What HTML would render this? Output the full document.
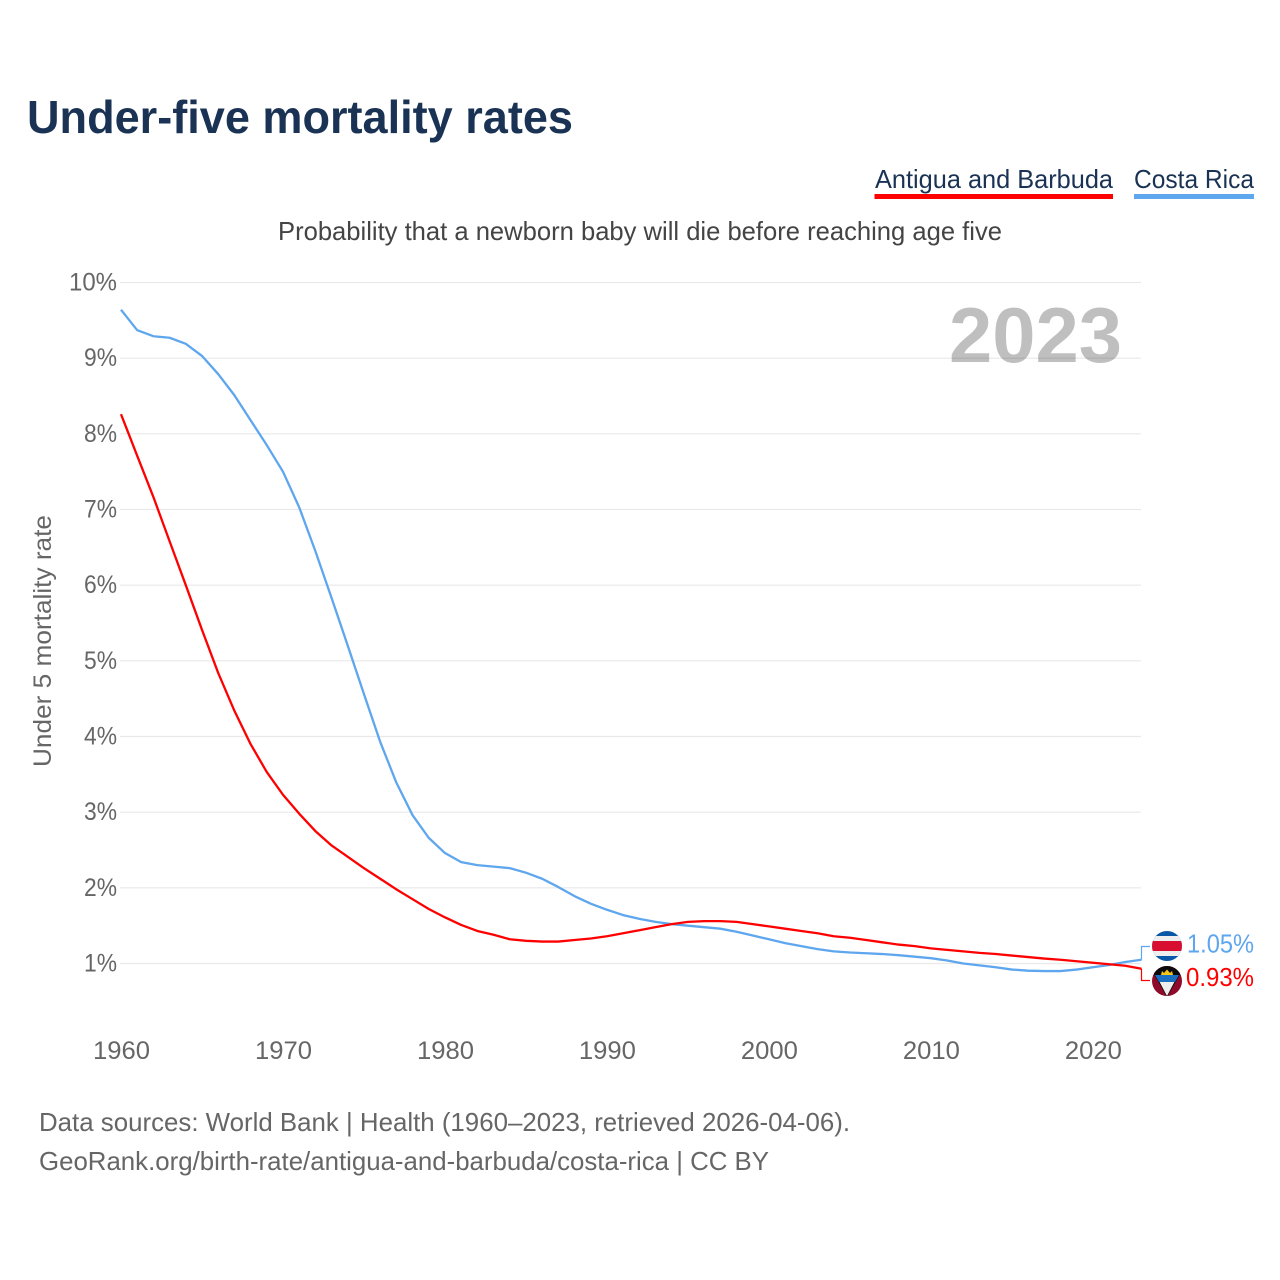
<!DOCTYPE html>
<html lang="en">
<head>
<meta charset="utf-8">
<title>Under-five mortality rates</title>
<style>
html,body{margin:0;padding:0;background:#fff}
svg{display:block;font-family:"Liberation Sans",sans-serif}
</style>
</head>
<body>
<svg id="chart" xmlns="http://www.w3.org/2000/svg" width="1280" height="1280" viewBox="0 0 1280 1280">
  <defs>
    <clipPath id="flag-clip-cr"><circle cx="1167" cy="946" r="15"/></clipPath>
    <clipPath id="flag-clip-ag"><circle cx="1167" cy="981" r="15"/></clipPath>
  </defs>
  <rect width="1280" height="1280" fill="#fff"/>
  <text x="27" y="133" font-size="46" font-weight="700" fill="#1a3354" textLength="546" lengthAdjust="spacingAndGlyphs">Under-five mortality rates</text>

  <g>
    <text x="875" y="188" font-size="26" fill="#1a3354" textLength="238" lengthAdjust="spacingAndGlyphs">Antigua and Barbuda</text>
    <rect x="874.5" y="194" width="238.5" height="5" fill="#ff0000"/>
  </g>
  <g>
    <text x="1134" y="188" font-size="26" fill="#1a3354" textLength="120" lengthAdjust="spacingAndGlyphs">Costa Rica</text>
    <rect x="1134" y="194" width="120" height="5" fill="#5ea6ee"/>
  </g>

  <text x="278" y="240" font-size="26" fill="#444" textLength="724" lengthAdjust="spacingAndGlyphs">Probability that a newborn baby will die before reaching age five</text>

  <g id="grid"></g>
  <g id="yticks"></g>
  <g id="xticks"></g>

  <text transform="translate(51,767) rotate(-90)" font-size="25" fill="#666" textLength="252" lengthAdjust="spacingAndGlyphs">Under 5 mortality rate</text>

  <text x="949" y="362" font-size="78" font-weight="700" fill="#000" fill-opacity="0.25" textLength="173" lengthAdjust="spacingAndGlyphs">2023</text>

  <g id="series"></g>

  <g>
    <g clip-path="url(#flag-clip-cr)">
      <rect x="1152" y="931" width="30" height="30" fill="#0a57a8"/>
      <rect x="1152" y="936" width="30" height="20" fill="#eeeeee"/>
      <rect x="1152" y="941" width="30" height="10" fill="#d80e30"/>
    </g>
    <text id="label-cr" x="1187" y="952.5" font-size="26" fill="#5ea6ee" textLength="67" lengthAdjust="spacingAndGlyphs">1.05%</text>
  </g>
  <g>
    <g clip-path="url(#flag-clip-ag)">
      <rect x="1152" y="966" width="30" height="30" fill="#8f0a2a"/>
      <polygon points="1152,966 1182,966 1182,971 1167,997 1152,971" fill="#0b0b0b"/>
      <polygon points="1157.5,978 1176.5,978 1167,996" fill="#eeeeee"/>
      <polygon points="1155,975 1179,975 1175,982 1159,982" fill="#1b6fc0"/>
      <polygon points="1161,975 1162,971 1164,973 1167,969.5 1170,973 1172,971 1173,975" fill="#f5c518"/>
    </g>
    <text id="label-ag" x="1186" y="986" font-size="26" fill="#ff0000" textLength="68" lengthAdjust="spacingAndGlyphs">0.93%</text>
  </g>

  <text x="39" y="1131" font-size="26" fill="#666" textLength="811" lengthAdjust="spacingAndGlyphs">Data sources: World Bank | Health (1960–2023, retrieved 2026-04-06).</text>
  <text x="39" y="1170" font-size="26" fill="#666" textLength="730" lengthAdjust="spacingAndGlyphs">GeoRank.org/birth-rate/antigua-and-barbuda/costa-rica | CC BY</text>
</svg>
<script>
const startYear = 1960;
const costaRica = [9.64,9.37,9.29,9.27,9.19,9.03,8.79,8.51,8.18,7.85,7.50,7.03,6.45,5.83,5.20,4.56,3.93,3.39,2.96,2.66,2.46,2.34,2.30,2.28,2.26,2.20,2.12,2.01,1.89,1.79,1.71,1.64,1.59,1.55,1.52,1.50,1.48,1.46,1.42,1.37,1.32,1.27,1.23,1.19,1.16,1.145,1.135,1.125,1.11,1.09,1.07,1.04,1.00,0.975,0.95,0.92,0.905,0.90,0.90,0.92,0.95,0.98,1.02,1.05];
const antigua = [8.26,7.71,7.165,6.58,6.00,5.41,4.84,4.34,3.90,3.53,3.23,2.98,2.75,2.56,2.41,2.26,2.12,1.98,1.85,1.72,1.61,1.51,1.43,1.38,1.32,1.30,1.29,1.29,1.31,1.33,1.36,1.40,1.44,1.48,1.52,1.55,1.56,1.56,1.55,1.52,1.49,1.46,1.43,1.40,1.36,1.34,1.31,1.28,1.25,1.23,1.20,1.18,1.16,1.14,1.125,1.105,1.085,1.065,1.05,1.03,1.01,0.99,0.97,0.93];
const yTickValues = [1,2,3,4,5,6,7,8,9,10];
const xTickValues = [1960,1970,1980,1990,2000,2010,2020];

const NS = 'http://www.w3.org/2000/svg';
function xScale(year){ return 121 + (year - 1960) * (1141.5 - 121) / 63; }
function yScale(v){ return 963.5 - (v - 1) * (963.5 - 282.5) / 9; }
function make(tag, attrs, parent){
  const el = document.createElementNS(NS, tag);
  for (const k in attrs) el.setAttribute(k, attrs[k]);
  parent.appendChild(el);
  return el;
}
const grid = document.getElementById('grid');
const yticks = document.getElementById('yticks');
const xticks = document.getElementById('xticks');
const series = document.getElementById('series');

yTickValues.forEach(function(v){
  const y = yScale(v);
  const line = make('line', {x1:120, x2:1141, y1:y, y2:y, stroke:'#e9e9e9', 'stroke-width':1.2}, grid);
  
  
  const t = make('text', {x:117, y:y + 8, 'text-anchor':'end', 'font-size':25, fill:'#666', textLength:(v === 10 ? 48 : 33), lengthAdjust:'spacingAndGlyphs'}, yticks);
  
  
  t.textContent = v + '%';
});
xTickValues.forEach(function(yr){
  const t = make('text', {x:xScale(yr) + 0.5, y:1059, 'text-anchor':'middle', 'font-size':25, fill:'#666', textLength:57, lengthAdjust:'spacingAndGlyphs'}, xticks);
  
  
  t.textContent = yr;
});
function pathFor(values){
  return values.map(function(v, i){
    return (i ? 'L' : 'M') + xScale(startYear + i).toFixed(2) + ' ' + yScale(v).toFixed(2);
  }).join(' ');
}
const blueLine = make('path', {d:pathFor(costaRica), fill:'none', stroke:'#5ea6ee', 'stroke-width':2.3, 'stroke-linejoin':'round'}, series);


const redLine = make('path', {d:pathFor(antigua), fill:'none', stroke:'#ff0000', 'stroke-width':2.3, 'stroke-linejoin':'round'}, series);



const endX = xScale(startYear + costaRica.length - 1);
const blueLead = make('path', {d:'M' + endX + ' ' + yScale(costaRica[costaRica.length - 1]) + ' V946.5 H1150', fill:'none', stroke:'#5ea6ee', 'stroke-width':1.2}, series);


const redLead = make('path', {d:'M' + endX + ' ' + yScale(antigua[antigua.length - 1]) + ' V980.5 H1150', fill:'none', stroke:'#ff0000', 'stroke-width':1.2}, series);


document.getElementById('label-cr').textContent = costaRica[costaRica.length - 1].toFixed(2) + '%';
document.getElementById('label-ag').textContent = antigua[antigua.length - 1].toFixed(2) + '%';
</script>
</body>
</html>
